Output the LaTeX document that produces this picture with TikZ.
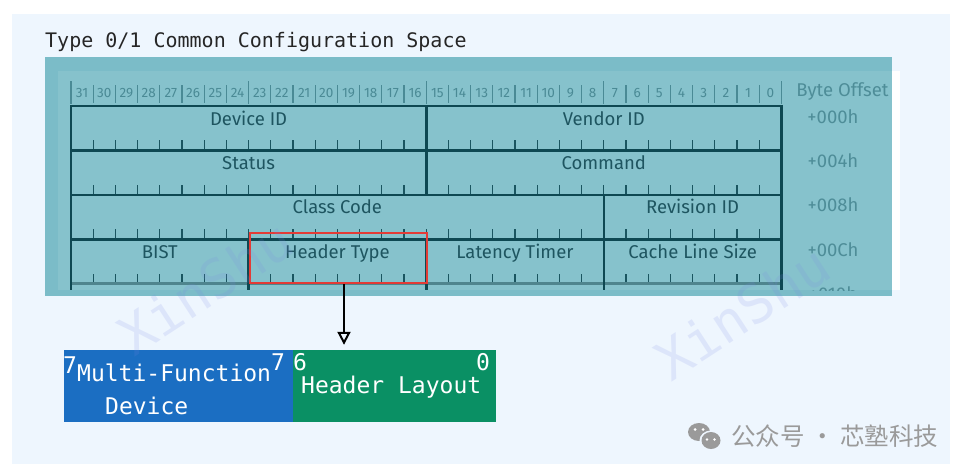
\documentclass[tikz,border=0pt]{standalone}
\usepackage{fontspec}
\setmainfont{Fira Sans}
\newfontfamily\monof{DejaVu Sans Mono}
\newfontfamily\cjkf{Noto Sans CJK SC}
\usetikzlibrary{arrows.meta}
\definecolor{pagebg}{HTML}{EEF6FE}
\definecolor{panelout}{HTML}{7BBCC8}
\definecolor{panelin}{HTML}{86C2CC}
\definecolor{lineteal}{HTML}{0E4852}
\definecolor{tickteal}{HTML}{1A5560}
\definecolor{txtteal}{HTML}{1E5560}
\definecolor{offteal}{HTML}{4E8D98}
\definecolor{bitteal}{HTML}{4A8A95}
\definecolor{bottomteal}{HTML}{4F858E}
\definecolor{redbox}{HTML}{E33B36}
\definecolor{mfblue}{HTML}{1B6EC2}
\definecolor{hlgreen}{HTML}{0A9064}
\definecolor{wmgrey}{HTML}{9A9A9A}
\definecolor{wmark}{HTML}{7A86E6}
\begin{document}
\begin{tikzpicture}[x=1pt,y=-1pt,
  fieldline/.style={draw=lineteal,line width=2.6pt,line cap=rect},
  tickline/.style={draw=tickteal,line width=1.2pt},
  bitsep/.style={draw=bitteal,line width=1.2pt},
  bitlbl/.style={text=bitteal,font=\fontsize{13.5}{15}\selectfont,anchor=base,inner sep=0pt},
  fieldlbl/.style={text=txtteal,font=\fontsize{18.5}{22}\selectfont,anchor=base,inner sep=0pt},
  offlbl/.style={text=offteal,font=\fontsize{18.5}{22}\selectfont,anchor=base,inner sep=0pt},
  bitbox/.style={draw=none,minimum height=72pt,inner sep=0pt},
  boxtxt/.style={text=white,font=\monof\fontsize{23}{26}\selectfont,anchor=base west,inner sep=0pt},
  wmtxt/.style={text=wmark,opacity=0.15,font=\monof\fontsize{54}{60}\selectfont,rotate=33},
  arrowst/.style={draw=black,line width=2pt,-{Triangle[open,length=13pt,width=13pt,line width=2pt]}}
]
\useasboundingbox (0,0) rectangle (975,474);
\fill[white] (0,0) rectangle (975,474);
\fill[pagebg] (12,14) rectangle (950,464);
% title
\node[anchor=base west,inner sep=0pt,font=\monof\fontsize{20}{24}\selectfont,text=black!85] (title) at (45,47) {Type 0/1 Common Configuration Space};
% panel
\fill[panelout] (45,57) rectangle (892,296);
\fill[panelin] (58,71) rectangle (892,290);
\fill[white] (892,71) rectangle (900,290);
% bit header
\foreach \i in {0,...,31}{
  \pgfmathtruncatemacro\bb{31-\i}
  \node[bitlbl] (bit\bb) at ({71+22.2*\i+11.1},97) {\bb};
}
\foreach \k in {1,...,7,9,10,...,15,17,18,...,23,25,26,...,31}{
  \draw[bitsep] ({71+22.2*\k},85) -- ({71+22.2*\k},103);
}
\foreach \k in {0,8,16,24,32}{
  \draw[bitsep] ({71+22.2*\k},81) -- ({71+22.2*\k},104);
}
% row ticks
\foreach \r in {1,...,4}{
  \foreach \k in {1,...,31}{
    \draw[tickline] ({71+22.2*\k},{106+44.4*\r}) -- ++(0,-10);
  }
}
% bottom line
\draw[draw=bottomteal,line width=2.4pt] (71,283.6) -- (781.4,283.6);
% thick field lines
\foreach \yy in {106,150.4,194.8,239.2}{
  \draw[fieldline] (71,\yy) -- (781.4,\yy);
}
\draw[fieldline] (71,106) -- (71,289);
\draw[fieldline] (781.4,106) -- (781.4,289);
\draw[fieldline] (426.2,106) -- (426.2,194.8);
\draw[fieldline] (603.8,194.8) -- (603.8,289);
\draw[fieldline] (248.6,239.2) -- (248.6,289);
\draw[fieldline] (426.2,239.2) -- (426.2,289);
% field labels
\node[fieldlbl] (devid) at (248.6,125) {Device ID};
\node[fieldlbl] (venid) at (603.8,125) {Vendor ID};
\node[fieldlbl] (status) at (248.6,169.4) {Status};
\node[fieldlbl] (cmd) at (603.8,169.4) {Command};
\node[fieldlbl] (ccode) at (337.4,213.8) {Class Code};
\node[fieldlbl] (revid) at (692.6,213.8) {Revision ID};
\node[fieldlbl] (bist) at (159.8,258.2) {BIST};
\node[fieldlbl] (htlbl) at (337.4,258.2) {Header Type};
\node[fieldlbl] (lat) at (515,258.2) {Latency Timer};
\node[fieldlbl] (cls) at (692.6,258.2) {Cache Line Size};
% offsets
\node[offlbl] (byteoff) at (842.5,96) {Byte Offset};
\node[offlbl] (off0) at (833,123) {+000h};
\node[offlbl] (off4) at (833,167.4) {+004h};
\node[offlbl] (off8) at (833,211.8) {+008h};
\node[offlbl] (offC) at (833,256.2) {+00Ch};
\begin{scope}
  \clip (780,280) rectangle (892,290);
  \node[offlbl] (off10) at (833,300.6) {+010h};
\end{scope}
% red highlight
\node[draw=redbox,line width=2.2pt,minimum width=177pt,minimum height=50pt,inner sep=0pt] (ht) at (338.5,258) {};
% bottom boxes
\node[bitbox,fill=mfblue,minimum width=229pt] (mf) at (178.5,386) {};
\node[bitbox,fill=hlgreen,minimum width=203pt] (hl) at (394.5,386) {};
\node[boxtxt] (mf7a) at (63,373) {7};
\node[boxtxt] (mfl1) at (77,381) {Multi-Function};
\node[boxtxt] (mfl2) at (105,414) {Device};
\node[boxtxt] (mf7b) at (271,370) {7};
\node[boxtxt] (hl6) at (293,370) {6};
\node[boxtxt] (hl0) at (476,370) {0};
\node[boxtxt] (hll) at (301,393) {Header Layout};
% arrow
\coordinate (arrtop) at ([xshift=5.5pt]ht.south);
\draw[arrowst,shorten >=5pt] (arrtop) -- (arrtop |- hl.north);
% footer
\fill[wmgrey] (699,432) ellipse (11pt and 9pt);
\fill[pagebg] (711,440.5) ellipse (11.5pt and 10pt);
\fill[wmgrey] (711,440.5) ellipse (9.5pt and 8.5pt);
\fill[white] (695,429.5) circle (1.5pt) (703,429.5) circle (1.5pt);
\fill[white] (707,439.5) circle (1.3pt) (714.5,439.5) circle (1.3pt);
\node[anchor=west,inner sep=0pt,text=wmgrey,font=\cjkf\fontsize{24.5}{26}\selectfont] (footer) at (731,436) {公众号 · 芯塾科技};
% watermarks
\node[wmtxt] (wm1) at (205,287) {XinShu};
\node[wmtxt] (wm2) at (742,312) {XinShu};
\end{tikzpicture}
\end{document}
